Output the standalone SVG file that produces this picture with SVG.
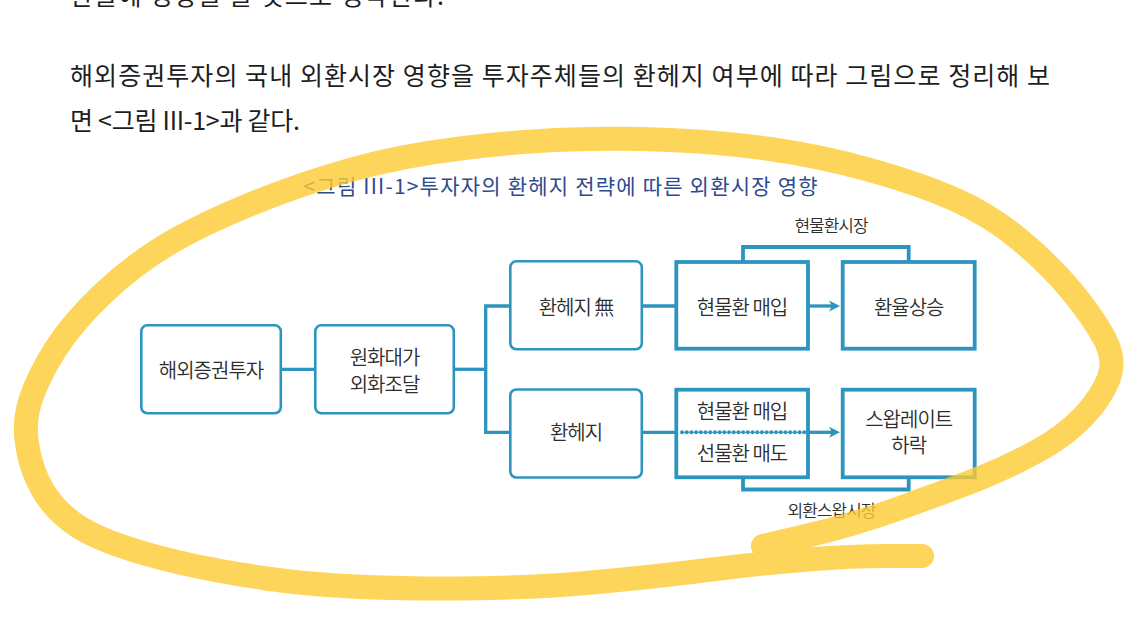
<svg xmlns="http://www.w3.org/2000/svg" width="1148" height="631" viewBox="0 0 1148 631">
  <style>
    .body { font-family: "Noto Sans CJK KR", "Liberation Sans", sans-serif; font-size: 25px; fill: #1e1e1e; letter-spacing: -2px; }
    .title { font-family: "Noto Sans CJK KR", "Liberation Sans", sans-serif; font-size: 21px; fill: #2d4b8e; letter-spacing: -1px; }
    .lbl { font-family: "Noto Sans CJK KR", "Liberation Sans", sans-serif; font-size: 20px; font-weight: 350; fill: #2e2e2e; letter-spacing: -1px; text-anchor: middle; }
    .mkt { font-family: "Noto Sans CJK KR", "Liberation Sans", sans-serif; font-size: 17px; font-weight: 350; fill: #2e2e2e; letter-spacing: -1px; text-anchor: middle; }
    .rbox { fill: #ffffff; stroke: #2c95bf; stroke-width: 2.6; }
    .sbox { fill: #ffffff; stroke: #2c95bf; stroke-width: 3.8; }
    .conn { fill: none; stroke: #2c95bf; stroke-width: 3.3; }
    .brk { fill: none; stroke: #2c95bf; stroke-width: 3.8; }
    .dots { fill: none; stroke: #2c95bf; stroke-width: 3.9; stroke-linecap: round; stroke-dasharray: 0.1 4.6; }
    .dotline { fill: none; stroke: #2c95bf; stroke-width: 1; }
    .marker-stroke { fill: none; stroke: #fdca32; stroke-width: 24; stroke-linecap: round; stroke-linejoin: round; opacity: 0.8; }
  </style>
  <defs>
    <marker id="ah" markerWidth="12" markerHeight="12" refX="6" refY="6" orient="auto" markerUnits="userSpaceOnUse">
      <path d="M0,0.5 L11,6 L0,11.5 L3,6 z" fill="#2c95bf"/>
    </marker>
  </defs>
  <rect x="0" y="0" width="1148" height="631" fill="#ffffff"/>

  <g id="body-text">
    <text class="body" x="70" y="5" textLength="372" lengthAdjust="spacing">환율에 영향을 줄 것으로 생각된다.</text>
    <text class="body" x="70" y="84.6" textLength="978" lengthAdjust="spacing">해외증권투자의 국내 외환시장 영향을 투자주체들의 환헤지 여부에 따라 그림으로 정리해 보</text>
    <text class="body" x="70" y="129.5" textLength="228" lengthAdjust="spacing">면 &lt;그림 III-1&gt;과 같다.</text>
  </g>

  <g id="figure-title">
    <text class="title" x="303.5" y="194.4" textLength="513" lengthAdjust="spacing">&lt;그림 III-1&gt;투자자의 환헤지 전략에 따른 외환시장 영향</text>
  </g>

  <g id="node-overseas-investment">
    <rect class="rbox" x="141.3" y="325.3" width="139.5" height="88" rx="6"/>
    <text class="lbl" x="211" y="378">해외증권투자</text>
  </g>
  <g id="node-krw-fx-funding">
    <rect class="rbox" x="315.3" y="325.3" width="138.5" height="88" rx="6"/>
    <text class="lbl" x="384.5" y="365.3">원화대가</text>
    <text class="lbl" x="384.5" y="391.8">외화조달</text>
  </g>
  <g id="node-no-hedge">
    <rect class="rbox" x="510.3" y="261.3" width="131.5" height="88" rx="6"/>
    <text class="lbl" x="576" y="314.6">환헤지 無</text>
  </g>
  <g id="node-hedge">
    <rect class="rbox" x="510.3" y="389.5" width="131.5" height="88" rx="6"/>
    <text class="lbl" x="576" y="439.6">환헤지</text>
  </g>
  <g id="node-spot-buy">
    <rect class="sbox" x="676.3" y="262" width="131.7" height="86.7"/>
    <text class="lbl" x="742" y="314.6">현물환 매입</text>
  </g>
  <g id="node-fx-rise">
    <rect class="sbox" x="842.7" y="262" width="132" height="86.7"/>
    <text class="lbl" x="908.7" y="314.6">환율상승</text>
  </g>
  <g id="node-spot-buy-forward-sell">
    <rect class="sbox" x="676.3" y="389.7" width="131.7" height="87.6"/>
    <text class="lbl" x="742" y="418.6">현물환 매입</text>
    <text class="lbl" x="742" y="461">선물환 매도</text>
  </g>
  <g id="node-swap-rate-fall">
    <rect class="sbox" x="842.7" y="389.7" width="132" height="87.6"/>
    <text class="lbl" x="908.7" y="426.8">스왑레이트</text>
    <text class="lbl" x="908.7" y="453">하락</text>
  </g>

  <g id="connectors">
    <path class="conn" d="M282 369.3 H315"/>
    <path class="conn" d="M454 369.3 H485.7"/>
    <path class="conn" d="M510 306 H485.7 V432.3 H510" stroke-linejoin="miter"/>
    <path class="conn" d="M642 306 H676"/>
    <path class="conn" d="M642 432.3 H676"/>
    <path class="conn" d="M808 306 H835" marker-end="url(#ah)"/>
    <path class="conn" d="M808 432.3 H835" marker-end="url(#ah)"/>
    <path class="dotline" d="M682 432.3 H806"/>
    <path class="dots" d="M682 432.3 H806"/>
    <path class="brk" d="M743 262 V247 H908.7 V262"/>
    <path class="brk" d="M743 477 V489.5 H908.7 V477"/>
  </g>

  <g id="market-labels">
    <text class="mkt" x="831" y="232.2">현물환시장</text>
    <text class="mkt" x="831.5" y="516.7">외환스왑시장</text>
  </g>

  <g id="highlight-loop">
    <path class="marker-stroke" d="M922,556 L887.5,556 Q853,556 808,559.5 Q763,563 708,570 Q653,577 586.5,583 Q520,589 426.5,588.5 Q333,588 266.5,578.5 Q200,569 150,555 Q100,541 77.5,526 Q55,511 43,490.5 Q31,470 27.5,446.5 Q23,423 30.5,400 Q38,377 55,350 Q72,323 102.5,294 Q133,265 166.5,245 Q200,225 250,204.5 Q300,184 350,170 Q400,156 460,148.5 Q520,141 570,139.5 Q620,138 670,140 Q720,142 770,149 Q820,156 870,170 Q920,184 955,199.5 Q990,215 1020,240 Q1050,265 1071.5,291 Q1093,317 1104.5,338.5 Q1116,360 1108.5,379 Q1101,398 1083,417 Q1065,436 1036.5,451.5 Q1008,467 980.5,478 Q953,489 903,507 Q853,525 808,535.5 L763,546"/>
  </g>
</svg>
